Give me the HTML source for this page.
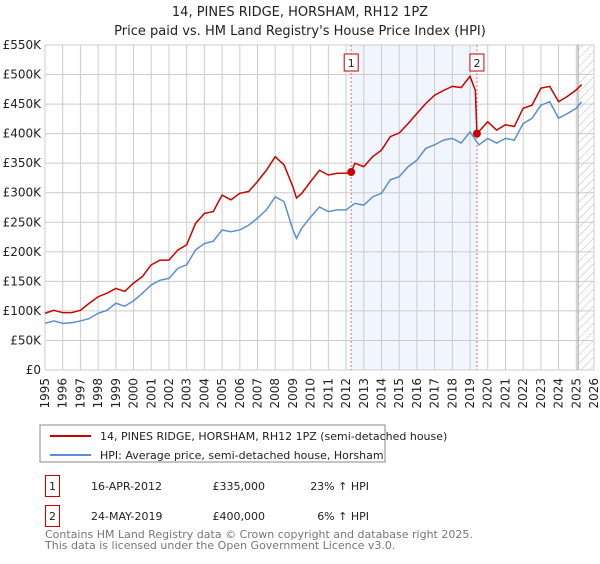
<!DOCTYPE html>
<html><head><meta charset="utf-8"><style>
body{margin:0;background:#fff;font-family:"DejaVu Sans","Liberation Sans",sans-serif;}
svg text{font-family:"DejaVu Sans","Liberation Sans",sans-serif;}
</style></head><body>
<svg id="c" width="600" height="560" xmlns="http://www.w3.org/2000/svg">
<text x="300" y="16" text-anchor="middle" font-size="13" fill="#222">14, PINES RIDGE, HORSHAM, RH12 1PZ</text>
<text x="300" y="35" text-anchor="middle" font-size="13" fill="#222">Price paid vs. HM Land Registry's House Price Index (HPI)</text>
<defs><pattern id="h" width="6" height="6" patternUnits="userSpaceOnUse" patternTransform="rotate(45)"><line x1="0" y1="0" x2="0" y2="6" stroke="#bbb" stroke-width="1"/></pattern></defs>
<g id="plot"></g>
<rect x="40" y="425" width="345" height="37" fill="#fff" stroke="#888"/>
<line x1="50" y1="436" x2="91" y2="436" stroke="#cc0000" stroke-width="2"/>
<text x="100" y="440" font-size="11" fill="#222">14, PINES RIDGE, HORSHAM, RH12 1PZ (semi-detached house)</text>
<line x1="50" y1="455" x2="91" y2="455" stroke="#5b8fd0" stroke-width="2"/>
<text x="100" y="459" font-size="11" fill="#222">HPI: Average price, semi-detached house, Horsham</text>
<rect x="45.5" y="475.5" width="14" height="21" fill="#fff" stroke="#cc0000"/>
<text x="52.5" y="490" font-size="11" text-anchor="middle" fill="#222">1</text>
<text x="91" y="490" font-size="11" fill="#222">16-APR-2012</text>
<text x="265" y="490" font-size="11" text-anchor="end" fill="#222">£335,000</text>
<text x="369" y="490" font-size="11" text-anchor="end" fill="#222">23% ↑ HPI</text>
<rect x="45.5" y="505.5" width="14" height="21" fill="#fff" stroke="#cc0000"/>
<text x="52.5" y="520" font-size="11" text-anchor="middle" fill="#222">2</text>
<text x="91" y="520" font-size="11" fill="#222">24-MAY-2019</text>
<text x="265" y="520" font-size="11" text-anchor="end" fill="#222">£400,000</text>
<text x="369" y="520" font-size="11" text-anchor="end" fill="#222">6% ↑ HPI</text>
<text x="45" y="538" font-size="11" fill="#777">Contains HM Land Registry data © Crown copyright and database right 2025.</text>
<text x="45" y="549" font-size="11" fill="#777">This data is licensed under the Open Government Licence v3.0.</text>
</svg>
<script>
const hpiYears=[1995,1995.5,1996,1996.5,1997,1997.5,1998,1998.5,1999,1999.5,2000,2000.5,2001,2001.5,2002,2002.5,2003,2003.5,2004,2004.5,2005,2005.5,2006,2006.5,2007,2007.5,2008,2008.5,2009,2009.2,2009.5,2010,2010.5,2011,2011.5,2012,2012.5,2013,2013.5,2014,2014.5,2015,2015.5,2016,2016.5,2017,2017.5,2018,2018.5,2019,2019.5,2020,2020.5,2021,2021.5,2022,2022.5,2023,2023.5,2024,2024.5,2025,2025.3];
const hpiValues=[79,83,79,80,83,87,96,101,113,108,117,130,144,152,155,172,178,203,214,218,237,234,237,245,257,271,293,285,237,223,240,259,276,268,271,271,282,279,293,299,322,327,344,355,375,381,389,392,384,403,381,392,384,392,389,417,426,448,454,426,434,443,454];
const priceYears=[1995,1995.5,1996,1996.5,1997,1997.5,1998,1998.5,1999,1999.5,2000,2000.5,2001,2001.5,2002,2002.5,2003,2003.5,2004,2004.5,2005,2005.5,2006,2006.5,2007,2007.5,2008,2008.5,2009,2009.2,2009.5,2010,2010.5,2011,2011.5,2012,2012.29,2012.5,2013,2013.5,2014,2014.5,2015,2015.5,2016,2016.5,2017,2017.5,2018,2018.5,2019,2019.3,2019.39,2020,2020.5,2021,2021.5,2022,2022.5,2023,2023.5,2024,2024.5,2025,2025.3];
const priceValues=[96,101,97,97,101,113,124,130,138,133,147,158,178,186,186,203,212,248,265,268,296,288,299,302,319,338,361,347,310,291,299,319,338,330,333,333,335,350,344,361,372,395,401,417,434,451,465,473,480,478,497,473,400,420,406,415,412,443,448,477,480,454,463,474,483];
const saleYears=[2012.29,2019.39];
const saleValues=[335,400];
const saleLabels=["1","2"];
const yTicks=[0,50,100,150,200,250,300,350,400,450,500,550];
const yTickLabels=["£0","£50K","£100K","£150K","£200K","£250K","£300K","£350K","£400K","£450K","£500K","£550K"];
const xTicks=[1995,1996,1997,1998,1999,2000,2001,2002,2003,2004,2005,2006,2007,2008,2009,2010,2011,2012,2013,2014,2015,2016,2017,2018,2019,2020,2021,2022,2023,2024,2025,2026];

const X0=45,X1=594,Y0=370,Y1=45;
const xs=y=>X0+(y-1995)/(2026-1995)*(X1-X0);
const ys=v=>Y0-v/550*(Y0-Y1);
const NS="http://www.w3.org/2000/svg";
const g=document.getElementById('plot');
function mk(t,a){const e=document.createElementNS(NS,t);for(const k in a)e.setAttribute(k,a[k]);g.appendChild(e);return e;}
let e;
e=mk('rect',{x:xs(saleYears[0]),y:Y1,width:xs(saleYears[1])-xs(saleYears[0]),height:Y0-Y1,fill:'#eef3fc',opacity:0.8});


e=mk('rect',{x:xs(2025.1),y:Y1,width:X1-xs(2025.1),height:Y0-Y1,fill:'url(#h)'});


yTicks.forEach((v,i)=>{
 e=mk('line',{x1:X0,x2:X1,y1:ys(v),y2:ys(v),stroke:'#ccc','stroke-width':1});
 
 
 e=mk('text',{x:X0-4,y:ys(v)+4,'text-anchor':'end','font-size':12,fill:'#222'});
 e.textContent=yTickLabels[i];
 
 
});
xTicks.forEach(yr=>{
 e=mk('line',{x1:xs(yr),x2:xs(yr),y1:Y1,y2:Y0,stroke:'#ccc','stroke-width':1});
 
 
 e=mk('text',{x:0,y:0,'text-anchor':'end','font-size':12,fill:'#222',transform:`translate(${xs(yr)+4},${Y0+8}) rotate(-90)`});
 e.textContent=yr;
 
 
});
e=mk('line',{x1:xs(2025.1),x2:xs(2025.1),y1:Y1,y2:Y0,stroke:'#999','stroke-width':1});


saleYears.forEach((yr,i)=>{
 e=mk('line',{x1:xs(yr),x2:xs(yr),y1:Y1,y2:Y0,stroke:'#f07070','stroke-width':1,'stroke-dasharray':'2,2'});
 
 
 e=mk('rect',{x:xs(yr)-7,y:54,width:14,height:17,fill:'#fff',stroke:'#cc0000'});
 
 
 e=mk('text',{x:xs(yr),y:67,'text-anchor':'middle','font-size':11,fill:'#222'});
 e.textContent=saleLabels[i];
 
 
});
e=mk('polyline',{points:hpiYears.map((y,i)=>xs(y)+','+ys(hpiValues[i])).join(' '),fill:'none',stroke:'#5b8fd0','stroke-width':1.5});


e=mk('polyline',{points:priceYears.map((y,i)=>xs(y)+','+ys(priceValues[i])).join(' '),fill:'none',stroke:'#cc0000','stroke-width':1.5});


saleYears.forEach((yr,i)=>{
 e=mk('circle',{cx:xs(yr),cy:ys(saleValues[i]),r:4,fill:'#cc0000'});
 
 
});
</script>
</body></html>
